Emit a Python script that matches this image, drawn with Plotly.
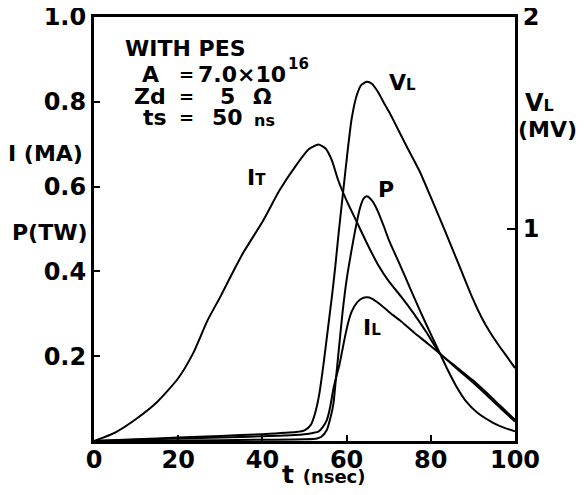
import plotly.graph_objects as go

# ---------------- data ----------------
# Total current I_T (MA)
t_IT = [0, 5, 10, 15, 20, 23.5, 27, 30, 32.3, 35.5, 40.2, 44, 48, 51, 53.3,
        55, 56.5, 58, 60, 62.5, 65, 67.5, 70, 73, 76, 79, 82.2, 86, 90, 93, 96.5, 100]
I_T = [0, 0.02, 0.052, 0.092, 0.148, 0.206, 0.285, 0.34, 0.385, 0.445, 0.52, 0.59,
       0.65, 0.688, 0.699, 0.69, 0.662, 0.615, 0.567, 0.515, 0.463, 0.415, 0.377, 0.34,
       0.30, 0.256, 0.206, 0.175, 0.143, 0.116, 0.083, 0.05]

# Load current I_L (MA)
t_IL = [0, 10, 20, 30, 40, 47.7, 50, 52, 53.3, 54.3, 55.3, 56.1, 56.9, 57.5, 58.3, 59.6, 60.4,
        61.2, 62.5, 63.8, 64.8, 66, 68, 70, 72.7, 76, 79, 82.2, 86, 90, 93, 96.5, 100]
I_L = [0, 0.003, 0.006, 0.008, 0.011, 0.014, 0.016, 0.019, 0.022, 0.032, 0.049, 0.08, 0.125,
       0.15, 0.18, 0.245, 0.28, 0.305, 0.327, 0.337, 0.339, 0.336, 0.322, 0.305, 0.284, 0.256,
       0.232, 0.206, 0.172, 0.138, 0.111, 0.078, 0.046]

# Load power P (TW)
t_P = [0, 20, 40, 50, 53, 54, 55.3, 56.3, 56.9, 57.4, 58, 59, 60, 61, 62.2, 63.2, 64, 64.8,
       65.6, 66.5, 67.5, 68.7, 70.2, 72.7, 75.1, 77.4, 80, 82.2, 84, 86, 88.5, 91, 94.8, 97.5, 100]
P = [0, 0.001, 0.003, 0.004, 0.006, 0.01, 0.026, 0.06, 0.09, 0.14, 0.2, 0.3, 0.38, 0.44, 0.505,
     0.55, 0.571, 0.577, 0.572, 0.56, 0.54, 0.51, 0.47, 0.415, 0.36, 0.308, 0.252, 0.206, 0.168,
     0.13, 0.092, 0.067, 0.043, 0.031, 0.023]

# Load voltage V_L (MV, right axis)
t_VL = [0, 10, 20, 30, 40, 48, 50, 51.5, 52.5, 53.5, 54.5, 55.5, 56.5, 57.3, 58, 59.2, 60.2,
        61.2, 62.4, 63.5, 64.8, 66, 67.5, 69, 70.3, 74, 77.4, 80, 83.4, 86.9, 90, 92, 94, 96,
        98, 100]
V_L = [0, 0.008, 0.016, 0.024, 0.032, 0.042, 0.05, 0.076, 0.13, 0.22, 0.36, 0.52, 0.68, 0.82,
       0.96, 1.18, 1.36, 1.52, 1.63, 1.68, 1.694, 1.685, 1.645, 1.59, 1.545, 1.40, 1.27, 1.15,
       0.99, 0.82, 0.67, 0.585, 0.515, 0.455, 0.40, 0.344]

x_ticks = [0, 20, 40, 60, 80, 100]
x_ticklabels = ["0", "20", "40", "60", "80", "100"]
y_ticks = [0.2, 0.4, 0.6, 0.8, 1.0]
y_ticklabels = ["0.2", "0.4", "0.6", "0.8", "1.0"]
y2_ticks = [1, 2]
y2_ticklabels = ["1", "2"]

# ---------------- figure ----------------
FONT = "DejaVu Sans"
line_style = dict(color="black", width=2, shape="spline", smoothing=0.6)

fig = go.Figure()
fig.add_trace(go.Scatter(x=t_IT, y=I_T, mode="lines", line=line_style, hoverinfo="skip"))
fig.add_trace(go.Scatter(x=t_IL, y=I_L, mode="lines", line=line_style, hoverinfo="skip"))
fig.add_trace(go.Scatter(x=t_P, y=P, mode="lines", line=line_style, hoverinfo="skip"))
fig.add_trace(go.Scatter(x=t_VL, y=V_L, mode="lines", line=line_style, hoverinfo="skip",
                         yaxis="y2"))

tickfont = dict(family=FONT, size=24, color="black", weight="bold")

# the page body adds an 8 px offset, so the figure is 8 px smaller than the window
fig.update_layout(
    width=577, height=487,
    margin=dict(l=86, r=70, t=9, b=54),
    paper_bgcolor="white", plot_bgcolor="white",
    showlegend=False,
    xaxis=dict(range=[0, 100], tickvals=x_ticks, ticktext=x_ticklabels,
               ticks="inside", ticklen=6, tickwidth=2, tickcolor="black",
               showline=True, linewidth=3, linecolor="black", mirror=True,
               showgrid=False, zeroline=False, tickfont=tickfont, automargin=False,
               ticklabelstandoff=-5, ticklabeloverflow="allow"),
    yaxis=dict(range=[0, 1], tickvals=y_ticks, ticktext=y_ticklabels,
               ticks="inside", ticklen=6, tickwidth=2, tickcolor="black",
               showline=True, linewidth=3, linecolor="black", mirror=True,
               showgrid=False, zeroline=False, tickfont=tickfont, automargin=False,
               ticklabeloverflow="allow"),
    yaxis2=dict(range=[0, 2], tickvals=y2_ticks, ticktext=y2_ticklabels,
                overlaying="y", side="right",
                ticks="inside", ticklen=8, tickwidth=2, tickcolor="black",
                showline=True, linewidth=3, linecolor="black",
                showgrid=False, zeroline=False, tickfont=tickfont, automargin=False,
                ticklabeloverflow="allow"),
)

def txt(x, y, s, size=22, xanchor="center", yanchor="middle", xref="x", yref="y"):
    fig.add_annotation(x=x, y=y, xref=xref, yref=yref, text=s, showarrow=False,
                       xanchor=xanchor, yanchor=yanchor,
                       font=dict(family=FONT, size=size, color="black", weight="bold"))

# parameter block
txt(7.0, 0.925, "WITH PES", xanchor="left")
txt(13.5, 0.864, "A")
txt(22.0, 0.864, "=", size=18)
txt(24.2, 0.864, "7.0×10", xanchor="left")
txt(45.7, 0.889, "16", size=15, xanchor="left")
txt(13.3, 0.812, "Zd")
txt(22.0, 0.812, "=", size=18)
txt(31.8, 0.812, "5")
txt(40.1, 0.812, "Ω")
txt(14.5, 0.763, "ts")
txt(22.0, 0.763, "=", size=18)
txt(31.6, 0.763, "50")
txt(40.4, 0.757, "ns", size=16)

# curve labels
txt(38.5, 0.622, "I<span style='font-size:15px'>T</span>")
txt(73.2, 0.845, "V<span style='font-size:15px'>L</span>")
txt(69.4, 0.594, "P")
txt(66.0, 0.268, "I<span style='font-size:15px'>L</span>")

# axis titles
txt(-0.022, 0.678, "I (MA)", size=22, xanchor="right", xref="paper", yref="paper")
txt(-0.010, 0.491, "P(TW)", size=22, xanchor="right", xref="paper", yref="paper")
txt(1.019, 0.798, "V<span style='font-size:16px'>L</span>", size=24, xanchor="left",
    xref="paper", yref="paper")
txt(1.003, 0.735, "(MV)", size=22, xanchor="left", xref="paper", yref="paper")
txt(0.442, -0.08, "t <span style='font-size:18px'>(nsec)</span>", size=25, xanchor="left",
    xref="paper", yref="paper")

fig.write_html("out.html")
